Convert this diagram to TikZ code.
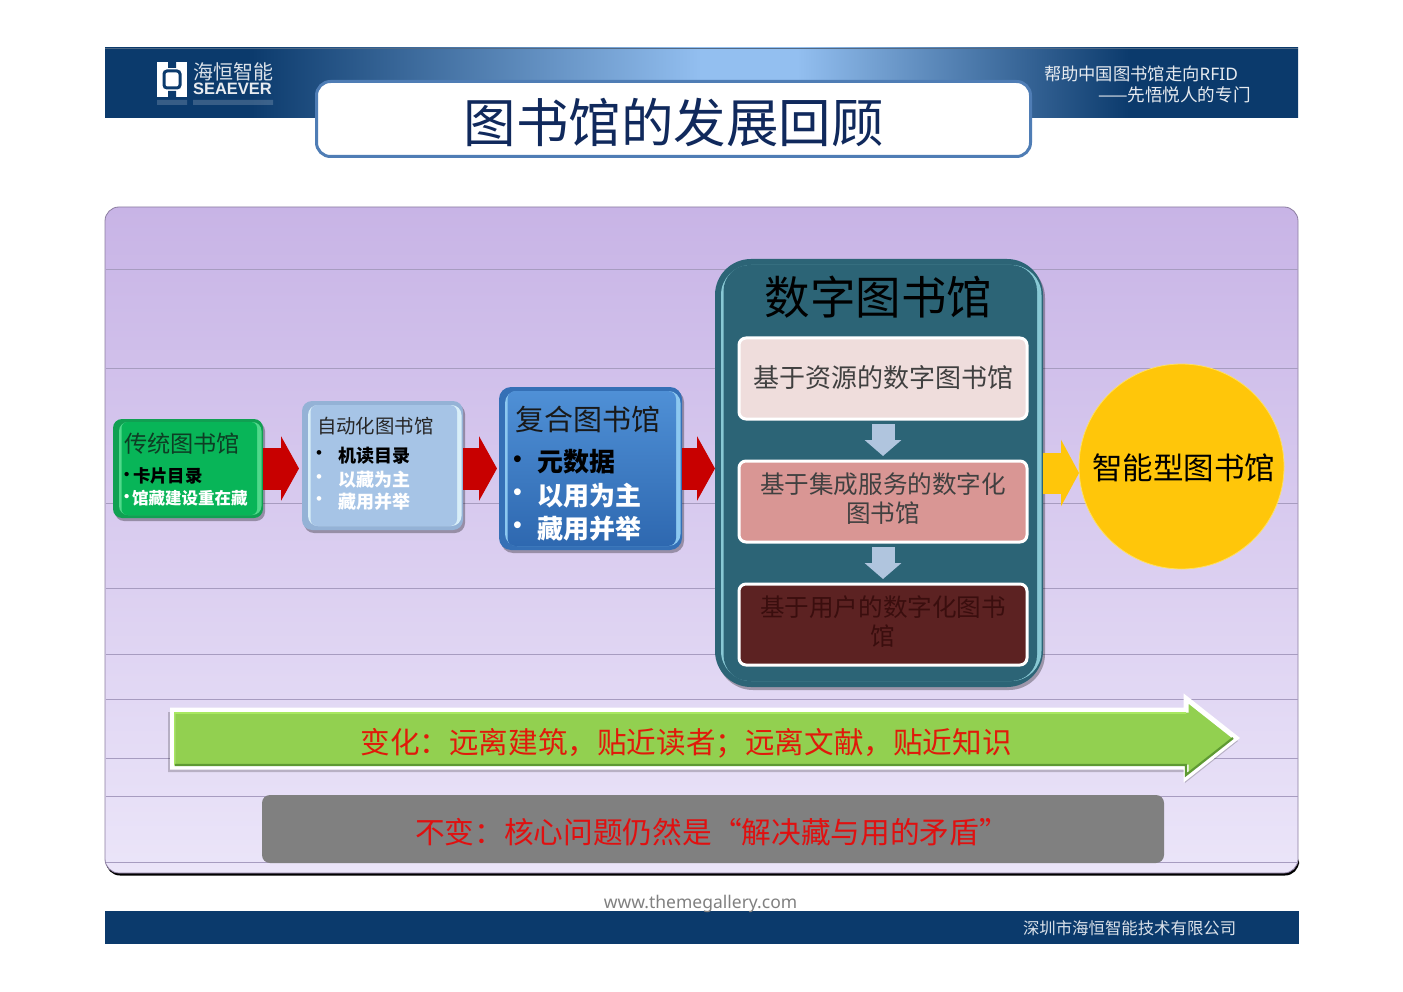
\documentclass[tikz,border=0pt]{standalone}
\usepackage{fontspec}
\setmainfont{Noto Sans CJK SC}
\newfontfamily\latinf{Noto Sans}
\newfontfamily\logof{Liberation Sans}
\usetikzlibrary{arrows.meta,calc,shadows}
\definecolor{navy}{HTML}{0B3A6C}
\definecolor{skyb}{HTML}{93BFF0}
\definecolor{titleb}{HTML}{4F7DB5}
\definecolor{titlet}{HTML}{10295C}
\definecolor{teal0}{HTML}{2C6476}
\definecolor{redar}{HTML}{C80000}
\definecolor{yell}{HTML}{FFC60A}
\definecolor{yellb}{HTML}{FFE060}
\definecolor{downar}{HTML}{B0C5DE}
\definecolor{grn}{HTML}{92D050}
\definecolor{grnd}{HTML}{5E9A32}
\definecolor{grnl}{HTML}{A8E860}
\definecolor{txtred}{HTML}{E01A0A}
\definecolor{txtredb}{HTML}{E01010}
\definecolor{pantop}{HTML}{C8B4E6}
\definecolor{panbot}{HTML}{EBE5F9}
\definecolor{panline}{HTML}{A79CC0}
\definecolor{greene}{HTML}{10A052}
\definecolor{greenl}{HTML}{50D88A}
\definecolor{greeni}{HTML}{08B558}
\definecolor{greent}{HTML}{0E3D24}
\definecolor{autoe}{HTML}{94B2D6}
\definecolor{autol}{HTML}{D8EEF8}
\definecolor{autoi}{HTML}{A6C4E6}
\definecolor{compe}{HTML}{3570B6}
\definecolor{compl}{HTML}{8CC8F0}
\definecolor{compt}{HTML}{4F90D6}
\definecolor{compb}{HTML}{2E68B0}
\definecolor{digil}{HTML}{88C8D4}
\definecolor{boxa}{HTML}{EFDDDC}
\definecolor{boxb}{HTML}{D99694}
\definecolor{boxc}{HTML}{5C2222}
\definecolor{boxct}{HTML}{3A0E0E}
\pgfdeclarehorizontalshading{hdrshade}{100bp}{color(0bp)=(navy); color(31bp)=(navy); color(50bp)=(skyb); color(54bp)=(skyb); color(68bp)=(navy); color(100bp)=(navy)}
\newcommand\fs[1]{\fontsize{#1}{#1}\selectfont}
\newcommand\bevelbox[6]{%
  \path[fill=#3,rounded corners=#2pt] ($(#1.north west)+(6,#5)$) rectangle ($(#1.south east)+(-1.5,-#5)$);
  \path[#4,rounded corners=#6pt] ($(#1.north west)+(8.5,#5)$) rectangle ($(#1.south east)+(-6,-#5)$);
}
\tikzset{
  x=1pt,y=-1pt,
  every node/.style={inner sep=0pt,outer sep=0pt},
  shadowed/.style={general shadow={shadow xshift=2pt,shadow yshift=-3pt,fill=black,fill opacity=.3}},
  boxshape/.style={rectangle,rounded corners=#1,shadowed},
  lefttxt/.style={anchor=west,text=#1},
  redarrow/.style={draw=redar,line width=42pt,-{Triangle[length=18pt,width=64pt]}},
  yelarrow/.style={draw=yell,line width=41pt,-{Triangle[length=18pt,width=66pt]}},
  downarrow/.style={draw=downar,line width=23pt,-{Triangle[length=16pt,width=36pt]},shorten <=5pt,shorten >=5pt},
  innerbox/.style={rectangle,draw=white,line width=3pt,rounded corners=7pt,minimum width=288pt,minimum height=81pt},
  innertxt/.style={align=center,font=\fontsize{24.6}{29}\selectfont,text=#1},
}
\begin{document}
\begin{tikzpicture}
\useasboundingbox (0,0) rectangle (1403,992);
\fill[white] (0,0) rectangle (1403,992);
% header band
\path[shading=hdrshade] (105,48) rectangle (1298,118);
\draw[color=black!45!skyb,line width=1.5pt] (105,48.5) -- (1298,48.5);
% logo
\fill[white] (157,62) rectangle (187,97);
\fill[navy] (168,62) rectangle (176,68) (168,91) rectangle (176,97);
\draw[navy,line width=3pt,rounded corners=3pt] (164,71) rectangle (180,88);
\fill[white,opacity=.18] (157,100) rectangle (187,105) (193,100) rectangle (273,105);
\node[lefttxt=white!85!navy] (logocn) at (193,72) {\fs{20}海恒智能};
\node[lefttxt=white!90!navy] (logoen) at (193,89) {\logof\bfseries\fs{16.5}SEAEVER};
\node[lefttxt=white!90!navy] (sloga) at (1044,74) {\fs{17.3}帮助中国图书馆走向\latinf RFID};
\node[lefttxt=white!90!navy] (slogb) at (1098,95) {\fs{17.6}——先悟悦人的专门};
% title
\node[rectangle,draw=titleb,line width=3pt,fill=white,rounded corners=14pt,minimum width=714pt,minimum height=75pt] (titlebox) at (673.5,119) {};
\node[text=titlet] (titletxt) at (673.5,122.5) {\fs{52.5}图书馆的发展回顾};
% panel
\fill[black,rounded corners=14pt] (106,850) rectangle (1299,875.5);
\path[top color=pantop,bottom color=panbot,rounded corners=14pt,draw=black!30!pantop,line width=.8pt] (105,207) rectangle (1298,873);
\foreach \ly in {269,368,503,588,654,699,758,796,862}
  \draw[color=panline,line width=.9pt] (105.5,\ly) -- (1297.5,\ly);
% footer
\fill[navy] (105,911) rectangle (1299,944);
\node[text=black!50] (web) at (700.5,903.5) {\latinf\fs{17.5}www.themegallery.com};
\node[lefttxt=white!85!navy] (foot) at (1023,928) {\fs{16.4}深圳市海恒智能技术有限公司};
% stage boxes
\node[boxshape=9pt,fill=greene,minimum width=150pt,minimum height=99pt] (trad) at (188,468.5) {};
\bevelbox{trad}{9}{greenl}{fill=greeni}{3}{6}
\node[lefttxt=greent] (tradt) at (124,444) {\fs{23.2}传统图书馆};
\node[lefttxt=black] (tradb1d) at (124,476) {\logof\bfseries\fs{15}•};
\node[lefttxt=black] (tradb1) at (133,476) {\fs{17.4}\bfseries 卡片目录};
\node[lefttxt=white] (tradb2d) at (124,498) {\logof\bfseries\fs{15}•};
\node[lefttxt=white] (tradb2) at (132,498) {\fs{16.5}\bfseries 馆藏建设重在藏};

\node[boxshape=10pt,fill=autoe,minimum width=161pt,minimum height=129pt] (auto) at (382.5,465.5) {};
\bevelbox{auto}{10}{autol}{fill=autoi}{4}{7}
\node[lefttxt=black!85] (autot) at (317,426) {\fs{19.4}自动化图书馆};
\node[lefttxt=black] (autob1d) at (316,455) {\logof\fs{17}•};
\node[lefttxt=black] (autob1) at (338,455.5) {\fs{18}\bfseries 机读目录};
\node[lefttxt=white] (autob2d) at (316,479) {\logof\fs{17}•};
\node[lefttxt=white] (autob2) at (338,479.5) {\fs{18}\bfseries 以藏为主};
\node[lefttxt=white] (autob3d) at (316,501) {\logof\fs{17}•};
\node[lefttxt=white] (autob3) at (338,502) {\fs{18}\bfseries 藏用并举};

\node[boxshape=12pt,fill=compe,minimum width=183pt,minimum height=163pt] (comp) at (590.5,468.5) {};
\bevelbox{comp}{12}{compl}{top color=compt,bottom color=compb}{4}{8}
\node[lefttxt=black!90] (compt) at (515,419) {\fs{29}复合图书馆};
\node[lefttxt=black] (compb1d) at (513,462) {\logof\fs{25}•};
\node[lefttxt=black] (compb1) at (537,462) {\fs{26}\bfseries 元数据};
\node[lefttxt=white] (compb2d) at (513,495) {\logof\fs{25}•};
\node[lefttxt=white] (compb2) at (537,495.5) {\fs{26}\bfseries 以用为主};
\node[lefttxt=white] (compb3d) at (513,528) {\logof\fs{25}•};
\node[lefttxt=white] (compb3) at (537,529) {\fs{26}\bfseries 藏用并举};

\node[boxshape=36pt,fill=teal0,minimum width=328pt,minimum height=428pt] (digi) at (879,473) {};
\bevelbox{digi}{30}{digil}{fill=teal0}{6}{26}
\node[text=black] (digit) at (878.5,297) {\fs{45.5}数字图书馆};
\node[innerbox,fill=boxa] (d1) at (883,378.5) {};
\node[text=black!75] (d1t) at (883,377.5) {\fs{26}基于资源的数字图书馆};
\node[innerbox,fill=boxb] (d2) at (883,501.5) {};
\node[innertxt=black!75] (d2t) at (883,499) {基于集成服务的数字化\\图书馆};
\node[innerbox,fill=boxc] (d3) at (883,624.5) {};
\node[innertxt=boxct] (d3t) at (883,622) {基于用户的数字化图书\\馆};
\draw[downarrow] (d1.south) -- (d2.north);
\draw[downarrow] (d2.south) -- (d3.north);

\node[circle,fill=yell,draw=yellb,line width=.8pt,minimum size=205pt] (smart) at (1181.5,466.5) {};
\node[text=black] (smartt) at (1183.5,468) {\fs{30.5}智能型图书馆};

% connectors
\draw[redarrow,shorten >=3pt] (trad.east) -- (trad.east -| auto.west);
\draw[redarrow,shorten >=2pt] (auto.east |- comp.west) -- (comp.west);
\draw[redarrow] (comp.east) -- (comp.east -| digi.west);
\draw[yelarrow] (digi.east) -- (digi.east -| smart.west);

% change banner
\path[fill=black,fill opacity=.2] (168,712) -- (1185,712) -- (1185,698) -- (1238,741) -- (1185,783) -- (1185,772) -- (168,772) -- cycle;
\path[draw=white,line width=5pt,fill=grn,miter limit=4,line join=miter] (172.5,710) -- (1186,710) -- (1186,698.5) -- (1236,738) -- (1186,777.5) -- (1186,767) -- (172.5,767) -- cycle;
\draw[color=grnd,line width=2.2pt] (174.5,765) -- (1186,765) -- (1186,775) -- (1233,738);
\draw[color=grnl,line width=1.5pt] (174.5,765) -- (174.5,713) -- (1186,713);
\node[text=txtred] (chg) at (686,743) {\fs{29.6}变化：远离建筑，贴近读者；远离文献，贴近知识};

% constant bar
\node[rectangle,rounded corners=8pt,fill=black!50,minimum width=902pt,minimum height=68pt] (same) at (713,829) {};
\node[lefttxt=txtredb] (samet) at (415,832) {\fs{29.7}不变：核心问题仍然是“解决藏与用的矛盾”};
\end{tikzpicture}
\end{document}
